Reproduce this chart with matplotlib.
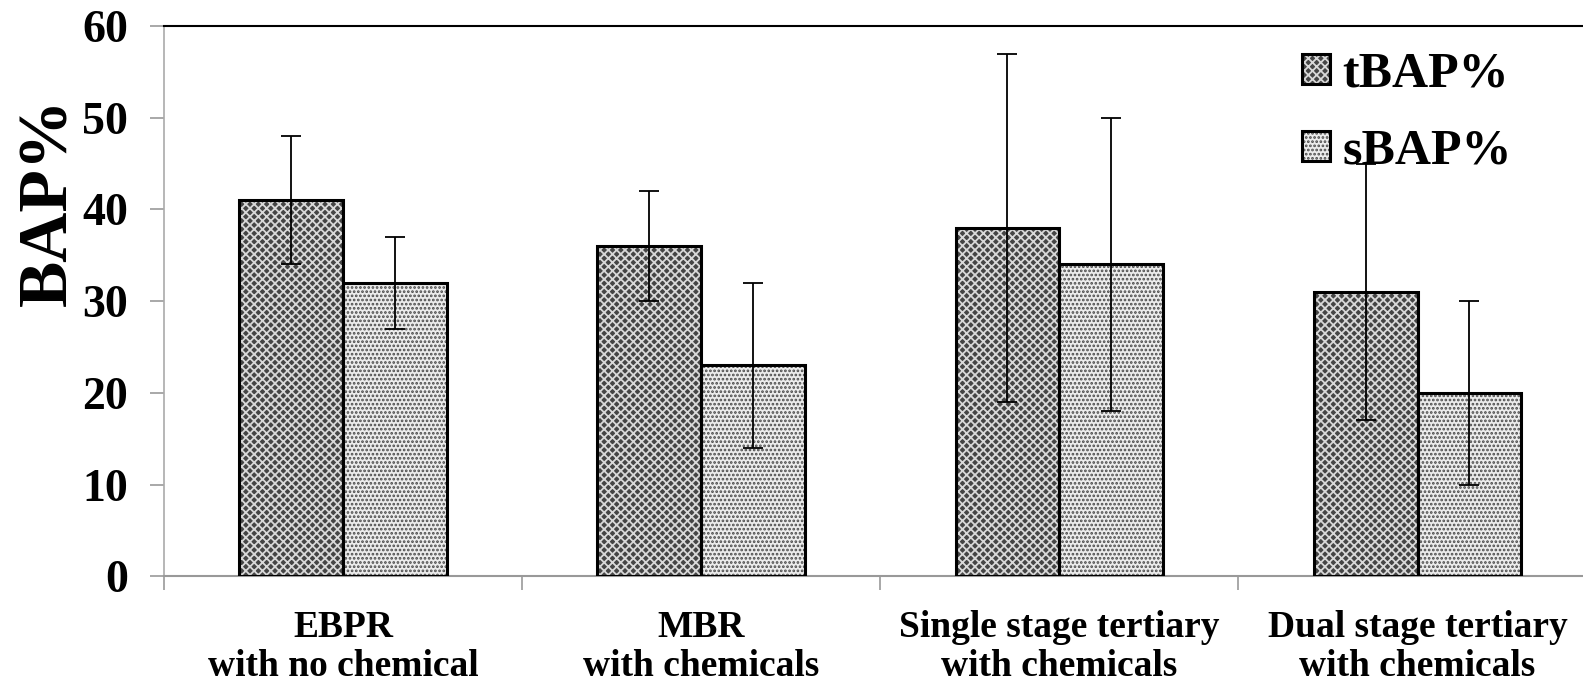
import numpy as np
import matplotlib
matplotlib.use("Agg")
from matplotlib import pyplot as plt
from matplotlib.patches import Patch
from matplotlib.legend_handler import HandlerTuple

categories = ["EBPR\nwith no chemical", "MBR\nwith chemicals",
              "Single stage tertiary\nwith chemicals", "Dual stage tertiary\nwith chemicals"]
tbap = [41, 36, 38, 31]
tbap_err = [7, 6, 19, 14]
sbap = [32, 23, 34, 20]
sbap_err = [5, 9, 16, 10]

plt.rcParams["font.family"] = ["Liberation Serif", "DejaVu Serif"]
plt.rcParams["font.weight"] = "bold"
plt.rcParams["hatch.linewidth"] = 1.3

fig = plt.figure(figsize=(15.83, 6.86), dpi=100)
ax = fig.add_axes([0.1036, 0.160, 0.905, 0.802])

x = np.arange(len(categories))
w = 0.29
styles = [("#454545", "#d8d8d8", "xxxx"), ("#ececec", "#4a4a4a", "....")]
handles = []
for off, vals, errs, (fc, hc, hatch) in [(-w / 2, tbap, tbap_err, styles[0]),
                                         (w / 2, sbap, sbap_err, styles[1])]:
    ax.bar(x + off, vals, w, color=fc, edgecolor=hc, hatch=hatch, linewidth=0, zorder=2)
    ax.bar(x + off, vals, w, fill=False, edgecolor="black", linewidth=2.2, zorder=3)
    ax.errorbar(x + off, vals, yerr=errs, fmt="none", ecolor="black", elinewidth=1.3,
                capsize=7, capthick=1.3, zorder=4)
    handles.append((Patch(facecolor=fc, edgecolor=hc, hatch=hatch, linewidth=0),
                    Patch(fill=False, edgecolor="black", linewidth=2.2)))

ax.set_xlim(-0.5, 3.5)
ax.set_ylim(0, 60)
ax.set_yticks(range(0, 61, 10))
ax.set_xticks(x)
ax.set_xticklabels(categories, fontsize=27, linespacing=1.15)
ax.set_xticks(np.arange(-0.5, 4, 1), minor=True)
ax.tick_params(axis="x", which="major", length=0, pad=24)
ax.tick_params(axis="x", which="minor", length=10, width=1.2, color="#999999", direction="out")
ax.tick_params(axis="y", length=10, width=1.2, color="#999999", labelsize=33, pad=16)

ax.spines["right"].set_visible(False)
ax.spines["top"].set_color("black")
ax.spines["top"].set_linewidth(1.5)
ax.spines["left"].set_color("#aaaaaa")
ax.spines["bottom"].set_color("#999999")
ax.spines["left"].set_linewidth(1.2)
ax.spines["bottom"].set_linewidth(1.5)

ax.set_ylabel("BAP%", fontsize=50, fontweight="bold")
ax.yaxis.set_label_coords(-0.058, 0.68)

ax.legend(handles, ["tBAP%", "sBAP%"], handler_map={tuple: HandlerTuple(ndivide=1)},
          loc="upper left", bbox_to_anchor=(0.8225, 0.925), bbox_transform=fig.transFigure,
          frameon=False, fontsize=36, handlelength=0.55, handleheight=0.55,
          handletextpad=0.25, labelspacing=0.62, borderpad=0, borderaxespad=0)

plt.savefig("out.png", dpi=100)
